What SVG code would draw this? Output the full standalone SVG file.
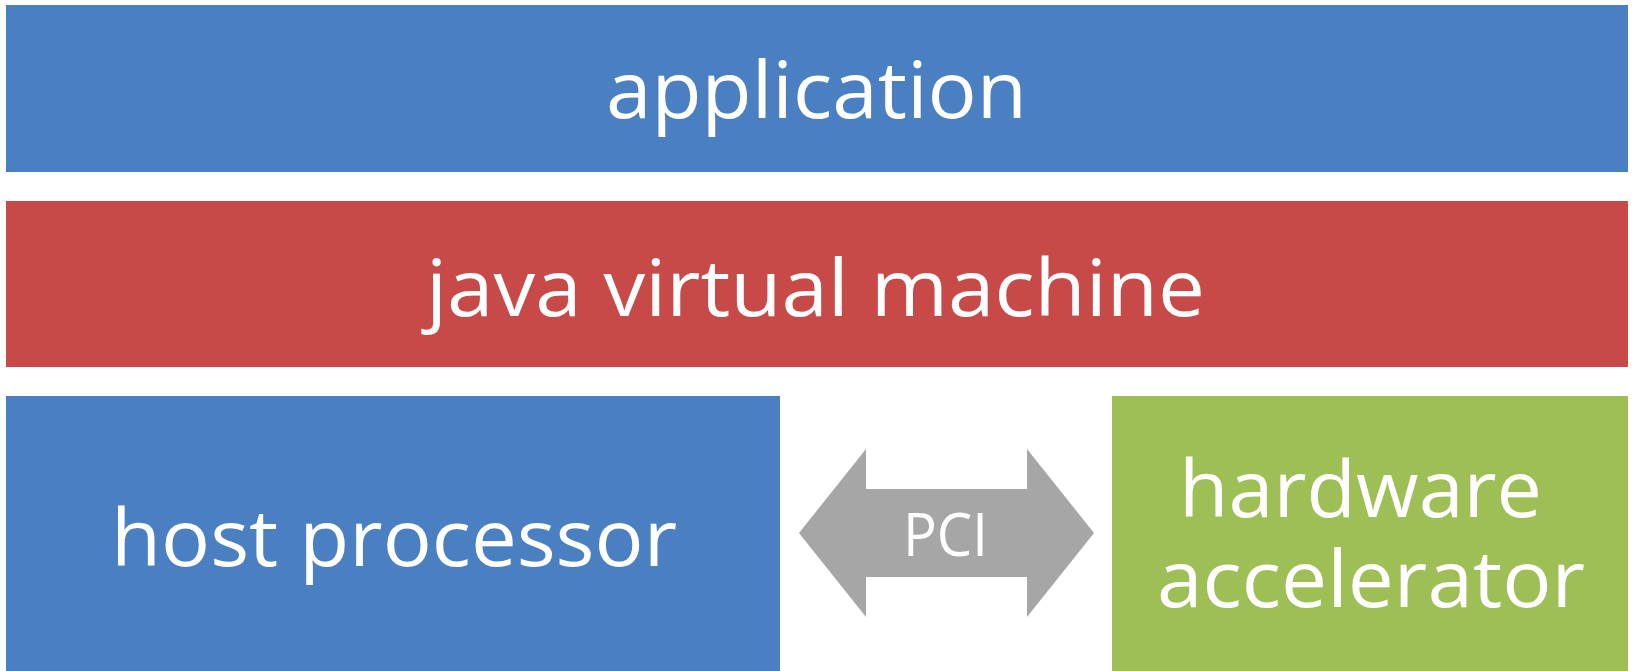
<svg xmlns="http://www.w3.org/2000/svg" width="1633" height="671" viewBox="0 0 1633 671">
<style>
.t{font-family:"Open Sans","Noto Sans","Liberation Sans",sans-serif;font-size:78px;fill:#ffffff}
.blue{fill:#4a7fc1}
.red{fill:#c84a48}
.green{fill:#9dbf55}
.arrow{fill:#a6a6a6}
</style>
<rect width="1633" height="671" fill="#ffffff"/>
<g id="application">
<rect class="blue" x="6" y="5" width="1622" height="167"/>
<text class="t" x="606" y="118" textLength="421" lengthAdjust="spacingAndGlyphs">application</text>
</g>
<g id="jvm">
<rect class="red" x="6" y="201" width="1622" height="166"/>
<text class="t" x="426" y="316" textLength="779" lengthAdjust="spacingAndGlyphs">java virtual machine</text>
</g>
<g id="host">
<rect class="blue" x="6" y="396" width="774" height="275"/>
<text class="t" x="111" y="566" textLength="566" lengthAdjust="spacingAndGlyphs">host processor</text>
</g>
<g id="accelerator">
<rect class="green" x="1112" y="396" width="516" height="275"/>
<text class="t"><tspan x="1179" y="517" textLength="363" lengthAdjust="spacingAndGlyphs">hardware</tspan><tspan x="1157" y="607" textLength="428" lengthAdjust="spacingAndGlyphs">accelerator</tspan></text>
</g>
<g id="connectors">
<g id="pci">
<polygon class="arrow" points="799,533 866,449 866,489 1027,489 1027,449 1094,533 1027,617 1027,577 866,577 866,617"/>
<text class="t" x="903" y="556" style="font-size:60px" textLength="85" lengthAdjust="spacingAndGlyphs">PCI</text>
</g>
</g>
</svg>
